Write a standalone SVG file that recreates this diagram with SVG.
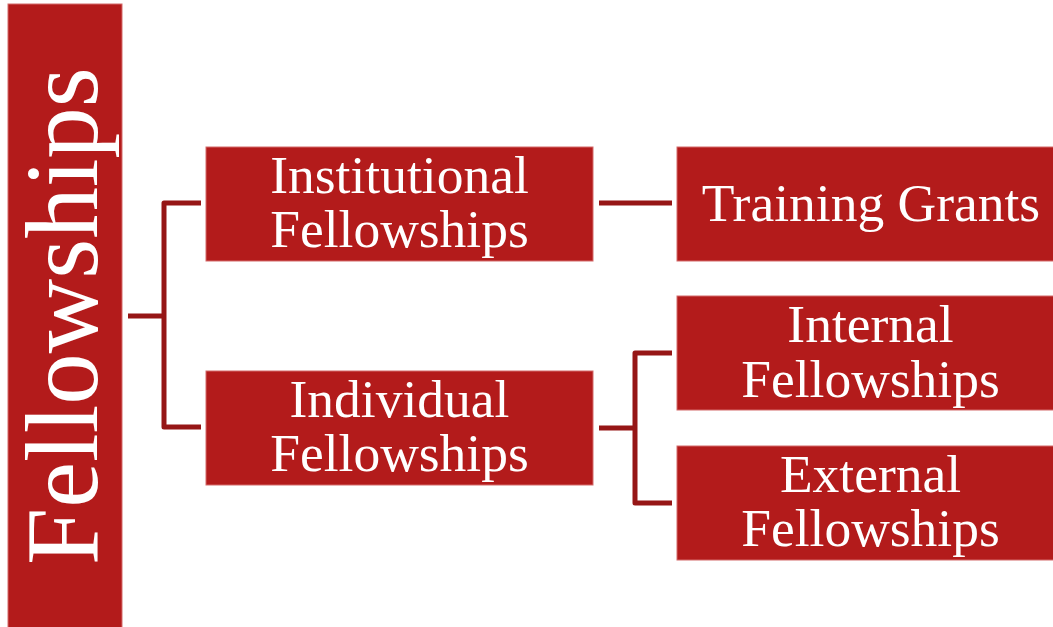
<svg xmlns="http://www.w3.org/2000/svg" width="1053" height="627" viewBox="0 0 1053 627">
<style>
.box{fill:#b31b1b;stroke:#d46a6a;stroke-width:1}
.lbl{font-family:"Liberation Serif","Times New Roman",serif;fill:#ffffff;font-size:53.5px;text-anchor:middle}
.conn{fill:none;stroke:#961616;stroke-width:5;stroke-linejoin:round}
</style>
<rect width="1053" height="627" fill="#ffffff"/>
<g id="root">
<rect class="box" x="8" y="4" width="114" height="630"/>
<text class="lbl" transform="translate(97,316) rotate(-90)" style="font-size:103px">Fellowships</text>
</g>
<g id="connectors">
<path class="conn" d="M128,316 H164 M201,203 H164 V427 H201"/>
<path class="conn" d="M599,203 H672"/>
<path class="conn" d="M599,428 H635 M672,353 H635 V503 H672"/>
</g>
<g id="institutional">
<rect class="box" x="206" y="147" width="387" height="114"/>
<text class="lbl" x="399.5" y="193">Institutional</text>
<text class="lbl" x="399.5" y="247">Fellowships</text>
</g>
<g id="individual">
<rect class="box" x="206" y="371" width="387" height="114"/>
<text class="lbl" x="399.5" y="417">Individual</text>
<text class="lbl" x="399.5" y="471">Fellowships</text>
</g>
<g id="training">
<rect class="box" x="677" y="147" width="387" height="114"/>
<text class="lbl" x="871" y="221">Training Grants</text>
</g>
<g id="internal">
<rect class="box" x="677" y="296" width="387" height="114"/>
<text class="lbl" x="870.5" y="342">Internal</text>
<text class="lbl" x="870.5" y="397">Fellowships</text>
</g>
<g id="external">
<rect class="box" x="677" y="446" width="387" height="114"/>
<text class="lbl" x="870.5" y="492">External</text>
<text class="lbl" x="870.5" y="546">Fellowships</text>
</g>
</svg>
